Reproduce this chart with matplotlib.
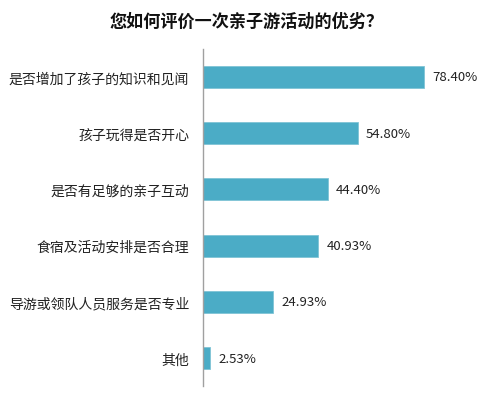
import matplotlib
matplotlib.use("Agg")
import matplotlib.pyplot as plt

plt.rcParams['font.family'] = ['Noto Sans CJK SC', 'DejaVu Sans']

categories = ["是否增加了孩子的知识和见闻", "孩子玩得是否开心", "是否有足够的亲子互动",
              "食宿及活动安排是否合理", "导游或领队人员服务是否专业", "其他"]
values = [78.40, 54.80, 44.40, 40.93, 24.93, 2.53]
labels = ["78.40%", "54.80%", "44.40%", "40.93%", "24.93%", "2.53%"]

fig = plt.figure(figsize=(5.0, 4.02), dpi=100)
ax = fig.add_axes([0.406, 0.037, 0.564, 0.839])
y = list(range(len(categories)))
ax.barh(y, values, height=0.39, color="#4BACC6", edgecolor="#7FC4D6", linewidth=0.6)
ax.set_ylim(len(categories) - 0.5, -0.5)
ax.set_xlim(0, 100)
ax.set_yticks(y)
ax.set_yticklabels(categories, fontsize=10, color="#222222")
ax.tick_params(axis='y', length=0, pad=10)
ax.set_xticks([])
for s in ["top", "right", "bottom"]:
    ax.spines[s].set_visible(False)
ax.spines["left"].set_color("#A0A0A0")
ax.spines["left"].set_linewidth(1.0)
for yi, v, t in zip(y, values, labels):
    ax.text(v + 2.8, yi, t, va="center", ha="left", fontsize=9.5, color="#222222")

fig.text(0.494, 0.945, "您如何评价一次亲子游活动的优劣？", ha="center", va="center",
         fontsize=12.3, fontweight="bold", color="#111111")
fig.savefig("out.png", dpi=100)
